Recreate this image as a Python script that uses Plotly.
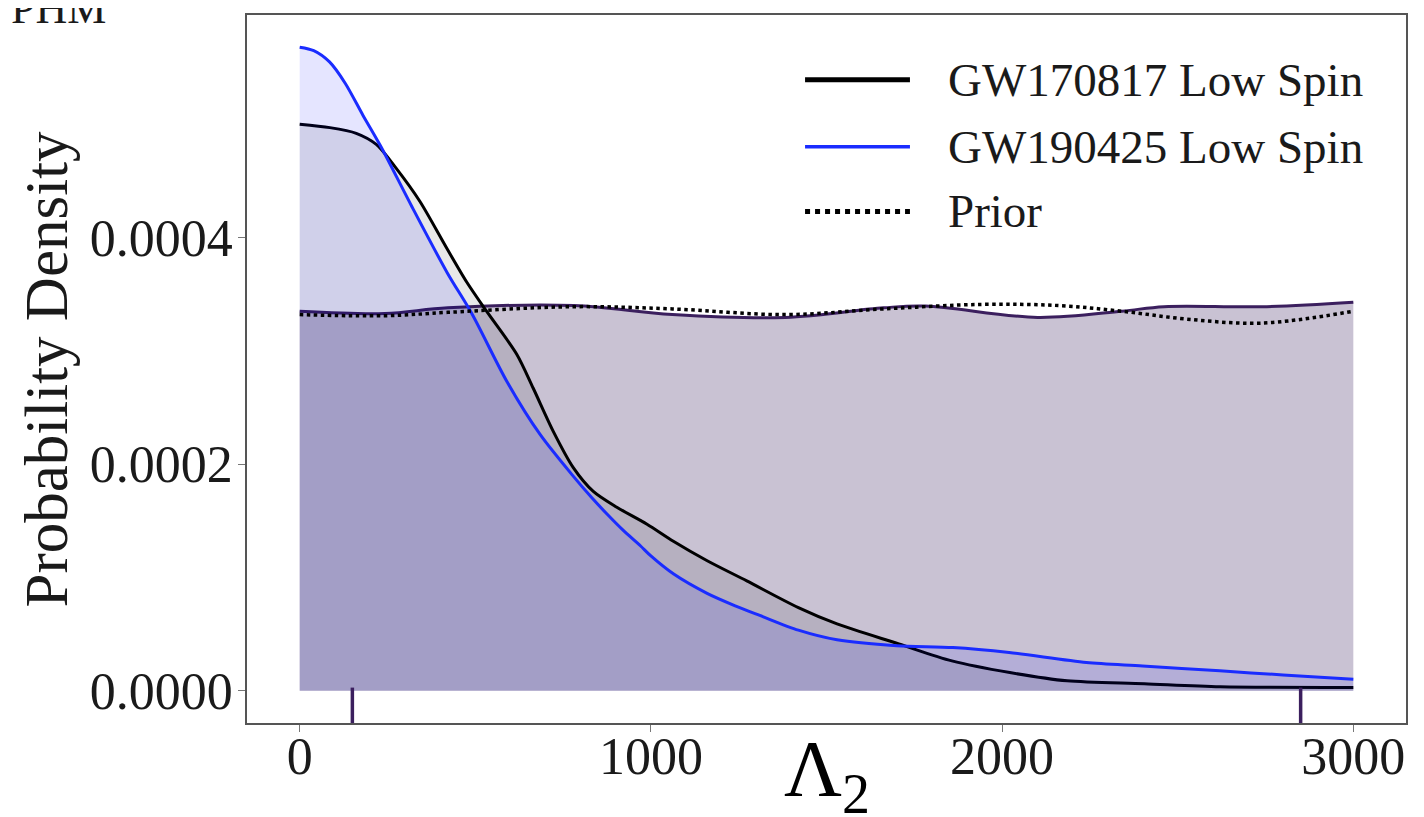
import plotly.graph_objects as go

# ---------------- data ----------------
blue_x = [0, 40, 85, 130, 180, 230, 320, 420, 490, 590, 685, 780, 830, 875, 920, 970,
          1000, 1065, 1160, 1240, 1310, 1420, 1530, 1700, 1860, 2020, 2240, 2400, 2620,
          2800, 3000]
blue_y = [0.000568, 0.000565, 0.000555, 0.000536, 0.000508, 0.000481, 0.000427,
          0.000369, 0.000333, 0.000273, 0.000226, 0.000189, 0.000171, 0.000156,
          0.000142, 0.000128, 0.000119, 0.000103, 0.000086, 0.000075, 0.0000665,
          0.0000535, 0.000045, 0.0000398, 0.0000382, 0.0000338, 0.000025, 0.000022,
          0.0000176, 0.000014, 0.0000103]

black_x = [0, 86, 161, 219, 275, 342, 418, 475, 532, 618, 665, 722, 779, 836, 903,
           989, 1064, 1159, 1273, 1420, 1530, 1706, 1857, 2022, 2185, 2405, 2621, 3000]
black_y = [0.000500, 0.000497, 0.000492, 0.000482, 0.000461, 0.000432, 0.000391,
           0.000361, 0.000335, 0.000297, 0.000267, 0.000229, 0.000197, 0.000176,
           0.000162, 0.000147, 0.000132, 0.000115, 0.000097, 0.0000734, 0.000059,
           0.0000414, 0.0000264, 0.0000161, 0.0000088, 0.0000062, 0.0000035, 0.000003]

prior_kde_x = [0, 242, 422, 781, 1061, 1383, 1662, 1782, 2101, 2341, 2461, 2740, 3000]
prior_kde_y = [0.000335, 0.000333, 0.000338, 0.000340, 0.000332, 0.0003295, 0.000338,
               0.0003395, 0.0003295, 0.000335, 0.000339, 0.000339, 0.000343]

prior_x = [0, 242, 422, 781, 1061, 1383, 1662, 1941, 2160, 2341, 2527, 2740, 3000]
prior_y = [0.000332, 0.000331, 0.000334, 0.000339, 0.000337, 0.000332, 0.000337,
           0.000341, 0.000340, 0.000335, 0.000328, 0.0003245, 0.000335]

prior_bounds = [150, 2850]   # 90% interval markers

legend_labels = ["GW170817 Low Spin", "GW190425 Low Spin", "Prior"]
x_ticks = [0, 1000, 2000, 3000]
y_ticks = [0.0, 0.0002, 0.0004]

# ---------------- styling ----------------
FONT = "Liberation Serif"
PURPLE = "#3b1f5e"
BLUE = "#1a2cff"
BLACK = "#000000"

ymax = max(blue_y + black_y + prior_kde_y + prior_y)
xr = [-0.05 * 3000, 1.05 * 3000]
yr = [-0.05 * ymax, 1.05 * ymax]

fig = go.Figure()

fig.add_trace(go.Scatter(x=prior_kde_x, y=prior_kde_y, mode="lines", line_shape="spline",
                         line=dict(color=PURPLE, width=3), fill="tozeroy",
                         fillcolor="rgba(59,31,94,0.275)", showlegend=False))
fig.add_trace(go.Scatter(x=black_x, y=black_y, mode="lines", line_shape="spline",
                         line=dict(color=BLACK, width=3, smoothing=0.8), fill="tozeroy",
                         fillcolor="rgba(0,0,0,0.09)", showlegend=False))
fig.add_trace(go.Scatter(x=blue_x, y=blue_y, mode="lines", line_shape="spline",
                         line=dict(color=BLUE, width=3, smoothing=0.8), fill="tozeroy",
                         fillcolor="rgba(0,0,255,0.10)", showlegend=False))
fig.add_trace(go.Scatter(x=prior_x, y=prior_y, mode="lines", line_shape="spline",
                         line=dict(color=BLACK, width=3.5, dash="dot"), showlegend=False))

for b in prior_bounds:
    fig.add_shape(type="line", xref="x", yref="paper", x0=b, x1=b, y0=0, y1=0.05,
                  line=dict(color=PURPLE, width=3.5))

# custom legend (long line samples like matplotlib)
legend_rows = [0.9085, 0.814, 0.7225]
legend_styles = [dict(color=BLACK, width=5), dict(color=BLUE, width=3.5),
                 dict(color=BLACK, width=5, dash="dot")]
for lab, yy, st in zip(legend_labels, legend_rows, legend_styles):
    fig.add_shape(type="line", xref="paper", yref="paper", x0=0.4815, x1=0.572,
                  y0=yy, y1=yy, line=st)
    fig.add_annotation(xref="paper", yref="paper", x=0.603, y=yy, text=lab,
                       showarrow=False, xanchor="left", yanchor="middle",
                       font=dict(family=FONT, size=47, color="#1a1a1a"))

fig.add_annotation(xref="paper", yref="paper", x=-0.173, y=0.5, text="Probability Density",
                   textangle=-90, showarrow=False, xanchor="center", yanchor="middle",
                   font=dict(family=FONT, size=61, color="#1a1a1a"))
fig.add_annotation(xref="paper", yref="paper", x=0.5, y=0.0, text="Λ<sub>2</sub>",
                   showarrow=False, xanchor="center", yanchor="top",
                   font=dict(family=FONT, size=80, color="#000000"))
fig.add_annotation(xref="paper", yref="paper", x=-0.205, y=0.972, text="PHM",
                   showarrow=False, xanchor="left", yanchor="bottom",
                   font=dict(family=FONT, size=44, color="#1a1a1a"))

axis_common = dict(showgrid=False, zeroline=False, showline=True, linecolor="#555555",
                   linewidth=1.5, mirror=True, ticks="outside", ticklen=7,
                   tickcolor="#777777", tickwidth=1.2)

fig.update_xaxes(range=xr, tickvals=x_ticks, ticktext=[str(t) for t in x_ticks],
                 ticklabelstandoff=-20,
                 tickfont=dict(family=FONT, size=52, color="#1a1a1a"), **axis_common)
fig.update_yaxes(range=yr, tickvals=y_ticks, ticktext=[f"{t:.4f}" for t in y_ticks],
                 ticklabelstandoff=-5,
                 tickfont=dict(family=FONT, size=52, color="#1a1a1a"), **axis_common)

# page body has an 8px offset, margins compensate so the frame sits at x 247-1406, y 13-723
fig.update_layout(width=1424, height=817, margin=dict(l=239, r=26, t=5, b=102),
                  plot_bgcolor="white", paper_bgcolor="white", showlegend=False)

fig.write_html("out.html")
